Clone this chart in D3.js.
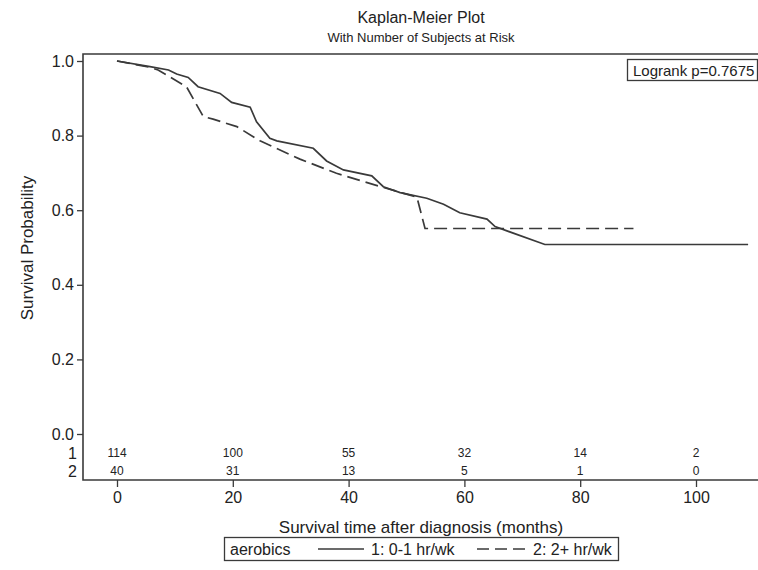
<!DOCTYPE html>
<meta charset="utf-8">
<style>
body { margin: 0; background: #fff; }
text { font-family: "Liberation Sans", Arial, sans-serif; fill: #222; }
</style>
<body>
<script src="https://d3js.org/d3.v7.min.js"></script>
<script>
// survival curve, group 1 (0-1 hr/wk)
var time1 = [0, 5.7, 8.9, 10.3, 12.3, 14.0, 17.8, 19.8, 23.0, 24.1, 26.4, 27.6, 33.9, 36.2, 39.1, 44.0, 46.0, 48.9, 53.5, 56.4, 59.2, 63.9, 65.3, 73.9, 109.0];
var surv1 = [1.0, 0.985, 0.976, 0.965, 0.956, 0.931, 0.913, 0.889, 0.876, 0.837, 0.793, 0.786, 0.766, 0.732, 0.708, 0.692, 0.663, 0.647, 0.632, 0.616, 0.593, 0.576, 0.556, 0.508, 0.508];
// group 2 (2+ hr/wk)
var time2 = [0, 5.7, 7.1, 12.0, 14.9, 16.6, 20.7, 24.7, 31.6, 37.9, 46.0, 51.8, 53.2, 89.2];
var surv2 = [1.0, 0.983, 0.976, 0.931, 0.851, 0.844, 0.824, 0.786, 0.737, 0.699, 0.661, 0.635, 0.551, 0.551];

// number at risk
var riskTimes = [0, 20, 40, 60, 80, 100];
var risk1 = [114, 100, 55, 32, 14, 2];
var risk2 = [40, 31, 13, 5, 1, 0];

var yTicks = [0, 0.2, 0.4, 0.6, 0.8, 1.0];
var xTicks = [0, 20, 40, 60, 80, 100];
var legendLabels = ["1: 0-1 hr/wk", "2: 2+ hr/wk"];

var W = 758, H = 570;
// frame edges (right edge runs past the picture, as in the original)
var frameL = 83, frameT = 54, frameB = 480, frameR = 760;

var x = d3.scaleLinear().domain([0, 100]).range([117, 696]);
var y = d3.scaleLinear().domain([0, 1]).range([434, 61]);

var svg = d3.select("body").append("svg")
    .attr("width", W)
    .attr("height", H);

var ink = "#3a3a3a";

// frame
svg.append("path")
    .attr("d", "M" + frameR + "," + frameT + "H" + frameL + "V" + frameB + "H" + frameR)
    .attr("fill", "none")
    .attr("stroke", ink)
    .attr("stroke-width", 1.6);

// y axis
var yAxis = svg.append("g")
    .attr("transform", "translate(" + frameL + ",0)")
    .call(d3.axisLeft(y).tickValues(yTicks).tickFormat(d3.format(".1f")).tickSize(6).tickPadding(3));
yAxis.select(".domain").remove();
yAxis.selectAll("line").attr("stroke", ink).attr("stroke-width", 1.3);
yAxis.selectAll("text").style("font-size", "16px").attr("fill", "#222")
    .style("font-family", "'Liberation Sans', Arial, sans-serif");

// x axis
var xAxis = svg.append("g")
    .attr("transform", "translate(0," + frameB + ")")
    .call(d3.axisBottom(x).tickValues(xTicks).tickSize(7).tickPadding(5));
xAxis.select(".domain").remove();
xAxis.selectAll("line").attr("stroke", ink).attr("stroke-width", 1.3);
xAxis.selectAll("text").style("font-size", "16px").attr("fill", "#222")
    .style("font-family", "'Liberation Sans', Arial, sans-serif");

// curves
var line = d3.line()
    .x(function(d) { return x(d[0]); })
    .y(function(d) { return y(d[1]); });

svg.append("path")
    .datum(d3.zip(time1, surv1))
    .attr("d", line)
    .attr("fill", "none")
    .attr("stroke", ink)
    .attr("stroke-width", 1.7);

svg.append("path")
    .datum(d3.zip(time2, surv2))
    .attr("d", line)
    .attr("fill", "none")
    .attr("stroke", ink)
    .attr("stroke-width", 1.7)
    .attr("stroke-dasharray", "13,6");

// number at risk rows
[risk1, risk2].forEach(function(row, i) {
  var yy = 453 + i * 18;
  svg.append("text")
      .attr("x", 77)
      .attr("y", yy)
      .attr("dy", "0.35em")
      .attr("text-anchor", "end")
      .style("font-size", "16px")
      .text(i + 1);
  svg.selectAll(null)
      .data(row)
    .enter().append("text")
      .attr("x", function(d, j) { return x(riskTimes[j]); })
      .attr("y", yy)
      .attr("dy", "0.35em")
      .attr("text-anchor", "middle")
      .style("font-size", "12px")
      .text(function(d) { return d; });
});

// titles
svg.append("text")
    .attr("x", 421).attr("y", 23)
    .attr("text-anchor", "middle")
    .style("font-size", "16px")
    .text("Kaplan-Meier Plot");
svg.append("text")
    .attr("x", 421).attr("y", 42)
    .attr("text-anchor", "middle")
    .style("font-size", "13px")
    .text("With Number of Subjects at Risk");

svg.append("text")
    .attr("transform", "translate(27,248) rotate(-90)")
    .attr("dy", "0.35em")
    .attr("text-anchor", "middle")
    .style("font-size", "17px")
    .text("Survival Probability");

svg.append("text")
    .attr("x", 421).attr("y", 533)
    .attr("text-anchor", "middle")
    .style("font-size", "17px")
    .text("Survival time after diagnosis (months)");

// logrank box
svg.append("rect")
    .attr("x", 627.5).attr("y", 59.5)
    .attr("width", 130).attr("height", 21)
    .attr("fill", "#fff")
    .attr("stroke", ink)
    .attr("stroke-width", 1.3);
svg.append("text")
    .attr("x", 633).attr("y", 70.5)
    .attr("dy", "0.35em")
    .style("font-size", "15px")
    .text("Logrank p=0.7675");

// legend
var legendY = 549;
var lg = svg.append("g");
lg.append("rect")
    .attr("x", 224.5).attr("y", legendY - 11.5)
    .attr("width", 394).attr("height", 23)
    .attr("fill", "#fff")
    .attr("stroke", ink)
    .attr("stroke-width", 1.3);
lg.append("text")
    .attr("x", 230).attr("y", legendY)
    .attr("dy", "0.35em")
    .style("font-size", "16px")
    .text("aerobics");
lg.append("line")
    .attr("x1", 318).attr("x2", 364).attr("y1", legendY).attr("y2", legendY)
    .attr("stroke", ink).attr("stroke-width", 1.5);
lg.append("text")
    .attr("x", 371).attr("y", legendY)
    .attr("dy", "0.35em")
    .style("font-size", "16px")
    .text(legendLabels[0]);
lg.append("line")
    .attr("x1", 477).attr("x2", 525).attr("y1", legendY).attr("y2", legendY)
    .attr("stroke", ink).attr("stroke-width", 1.5)
    .attr("stroke-dasharray", "12,6");
lg.append("text")
    .attr("x", 533).attr("y", legendY)
    .attr("dy", "0.35em")
    .style("font-size", "16px")
    .text(legendLabels[1]);
</script>
</body>
